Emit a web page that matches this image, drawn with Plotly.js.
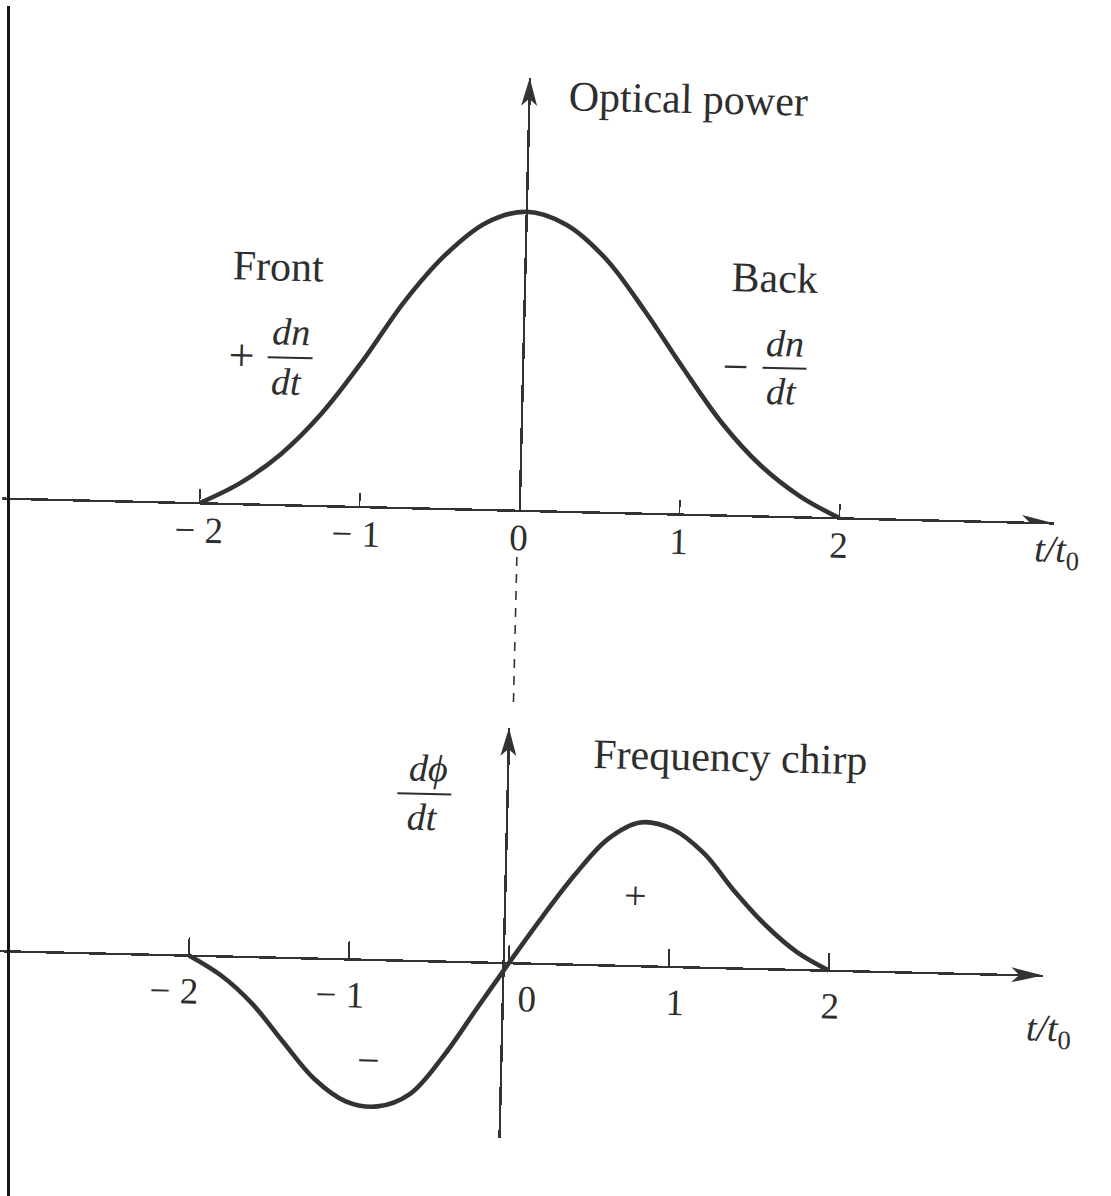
<!DOCTYPE html>
<html>
<head>
<meta charset="utf-8">
<script src="https://cdn.plot.ly/plotly-3.0.1.min.js"></script>
<style>
  html, body { margin: 0; padding: 0; width: 1111px; height: 1196px; overflow: hidden; background: #ffffff; }
  #page { position: relative; width: 1111px; height: 1196px; overflow: hidden; background: #ffffff; }
  #edge { position: absolute; left: 7px; top: 6px; width: 3px; height: 1190px; background: #151515; z-index: 2; }
  #chart { position: absolute; left: 0; top: 0; width: 1111px; height: 1196px;
           transform: rotate(1.35deg); transform-origin: 50% 50%; }
</style>
</head>
<body>
<div id="page">
  <div id="edge"></div>
  <div id="chart"></div>
</div>
<script>
// Pulse envelope: normalised optical power against t/t0
const pulseTime    = [-2, -1.75, -1.5, -1.25, -1, -0.75, -0.5, -0.25, 0, 0.25, 0.5, 0.75, 1, 1.25, 1.5, 1.75, 2];
const opticalPower = [0, 0.07, 0.17, 0.31, 0.49, 0.69, 0.85, 0.96, 1.0, 0.96, 0.85, 0.68, 0.49, 0.31, 0.17, 0.07, 0];

// Frequency chirp dphi/dt against t/t0
const chirpTime      = [-2, -1.8, -1.6, -1.4, -1.2, -1, -0.8, -0.6, -0.4, -0.2, 0, 0.2, 0.4, 0.6, 0.8, 1, 1.2, 1.4, 1.6, 1.8, 2];
const frequencyChirp = [0, -0.13, -0.32, -0.58, -0.83, -0.98, -1.01, -0.92, -0.66, -0.33, 0, 0.32, 0.62, 0.87, 0.99, 0.95, 0.79, 0.53, 0.30, 0.12, 0];

// Time axis ticks
const tickValues = [-2, -1, 0, 1, 2];
const tickLabels = ['\u2212 2', '\u2212 1', '0', '1', '2'];

// ---- page geometry ----
const W = 1111, H = 1196;
const px = v => v / W;          // pixel column -> paper x
const py = v => 1 - v / H;      // pixel row    -> paper y

const INK = '#333333';
const TEXT = '#2e2e2e';
const SERIF = 'Liberation Serif, Times New Roman, serif';

const xRange = [-3.234, 3.34];
const xDomain = [0, 1052 / W];

const axisCommon = {
  showgrid: false, zeroline: false, showticklabels: false,
  showline: true, linecolor: INK, linewidth: 2.4, fixedrange: true
};

const traces = [
  {
    x: pulseTime, y: opticalPower, xaxis: 'x', yaxis: 'y',
    type: 'scatter', mode: 'lines',
    line: { color: INK, width: 4.6, shape: 'spline', smoothing: 1 },
    hoverinfo: 'skip'
  },
  {
    x: chirpTime, y: frequencyChirp, xaxis: 'x2', yaxis: 'y2',
    type: 'scatter', mode: 'lines',
    line: { color: INK, width: 4.6, shape: 'spline', smoothing: 1 },
    hoverinfo: 'skip'
  }
];

// arrowheads drawn in pixel units at the end of each axis
const headRight = 'M0,0 L-32,7.5 L-24,0 L-32,-7.5 Z';
const headUp    = 'M0,0 L-8,-28 L0,-21 L8,-28 Z';
function arrowHead(xref, yref, xa, ya, path) {
  return { type: 'path', xref, yref, xsizemode: 'pixel', ysizemode: 'pixel',
           xanchor: xa, yanchor: ya, path, fillcolor: INK, line: { width: 0 } };
}

const chirpAxisT = -0.034;   // time position of the chirp ordinate

const shapes = [
  arrowHead('x', 'y', xRange[1], 0, headRight),
  arrowHead('x2', 'y2', xRange[1], 0, headRight),
  arrowHead('x', 'y', 0, 1.448, headUp),
  arrowHead('x2', 'y2', chirpAxisT, 1.62, headUp),
  // dashed guide joining the two time origins
  { type: 'line', xref: 'x', yref: 'paper', x0: -0.01, x1: -0.01, y0: py(558), y1: py(706),
    line: { color: INK, width: 1.6, dash: '9px,8px' } },
  // fraction bars
  { type: 'line', xref: 'paper', yref: 'paper', x0: px(262), x1: px(307), y0: py(364), y1: py(364),
    line: { color: TEXT, width: 2 } },
  { type: 'line', xref: 'paper', yref: 'paper', x0: px(757), x1: px(801), y0: py(363), y1: py(363),
    line: { color: TEXT, width: 2 } },
  { type: 'line', xref: 'paper', yref: 'paper', x0: px(402), x1: px(456), y0: py(797), y1: py(797),
    line: { color: TEXT, width: 2 } }
];

function note(text, x, y, size, extra) {
  return Object.assign({
    text, x: px(x), y: py(y), xref: 'paper', yref: 'paper',
    xanchor: 'center', yanchor: 'middle', showarrow: false,
    font: { family: SERIF, size, color: TEXT }
  }, extra || {});
}

const annotations = [
  note('Optical power', 676, 96, 42),
  note('Front', 270, 273, 42),
  note('+', 236, 363, 46),
  note('<i>dn</i>', 285, 338, 38),
  note('<i>dt</i>', 281, 388, 38),
  note('Back', 767, 273, 42),
  note('\u2212', 730, 362, 46),
  note('<i>dn</i>', 779, 338, 38),
  note('<i>dt</i>', 776, 386, 38),
  note('<i>t/t</i><sub>0</sub>', 1055, 540, 38),
  note('Frequency chirp', 734, 753, 42),
  note('<i>d\u03d5</i>', 432, 771, 38),
  note('<i>dt</i>', 427, 820, 38),
  note('+', 642, 893, 40),
  note('\u2212', 379, 1064, 40),
  note('<i>t/t</i><sub>0</sub>', 1058, 1019, 38)
];

// tick labels placed through the time axes
const topShift = [0, -3, 0, 0, 0];
const bottomShift = [-14, -8, 19, 7, 2];
tickValues.forEach((v, i) => {
  annotations.push({
    x: v, y: 0, xref: 'x', yref: 'y', text: tickLabels[i], showarrow: false,
    xanchor: 'center', yanchor: 'middle', xshift: topShift[i], yshift: -27,
    font: { family: SERIF, size: 37, color: TEXT }
  });
  annotations.push({
    x: v, y: 0, xref: 'x2', yref: 'y2', text: tickLabels[i], showarrow: false,
    xanchor: 'center', yanchor: 'middle', xshift: bottomShift[i], yshift: -36,
    font: { family: SERIF, size: 37, color: TEXT }
  });
});

const layout = {
  width: W, height: H, autosize: false,
  margin: { l: 0, r: 0, t: 0, b: 0, pad: 0 },
  paper_bgcolor: 'rgba(0,0,0,0)', plot_bgcolor: 'rgba(0,0,0,0)',
  showlegend: false,
  xaxis: Object.assign({}, axisCommon, {
    domain: xDomain, range: xRange, anchor: 'free', position: py(511.5),
    ticks: 'inside', tickvals: tickValues, ticklen: 13, tickwidth: 1.6, tickcolor: INK
  }),
  yaxis: Object.assign({}, axisCommon, {
    domain: [py(511.5), py(78.6)], range: [0, 1.448], anchor: 'free', position: px(517.5), ticks: ''
  }),
  xaxis2: Object.assign({}, axisCommon, {
    domain: xDomain, range: xRange, anchor: 'free', position: py(964),
    ticks: 'inside', tickvals: tickValues, ticklen: 17, tickwidth: 1.6, tickcolor: INK
  }),
  yaxis2: Object.assign({}, axisCommon, {
    domain: [py(1139), py(729)], range: [-1.207, 1.62], anchor: 'free',
    position: px(517.5 + 160 * chirpAxisT), ticks: ''
  }),
  shapes, annotations
};

Plotly.newPlot('chart', traces, layout, { staticPlot: true, displayModeBar: false });
</script>
</body>
</html>
